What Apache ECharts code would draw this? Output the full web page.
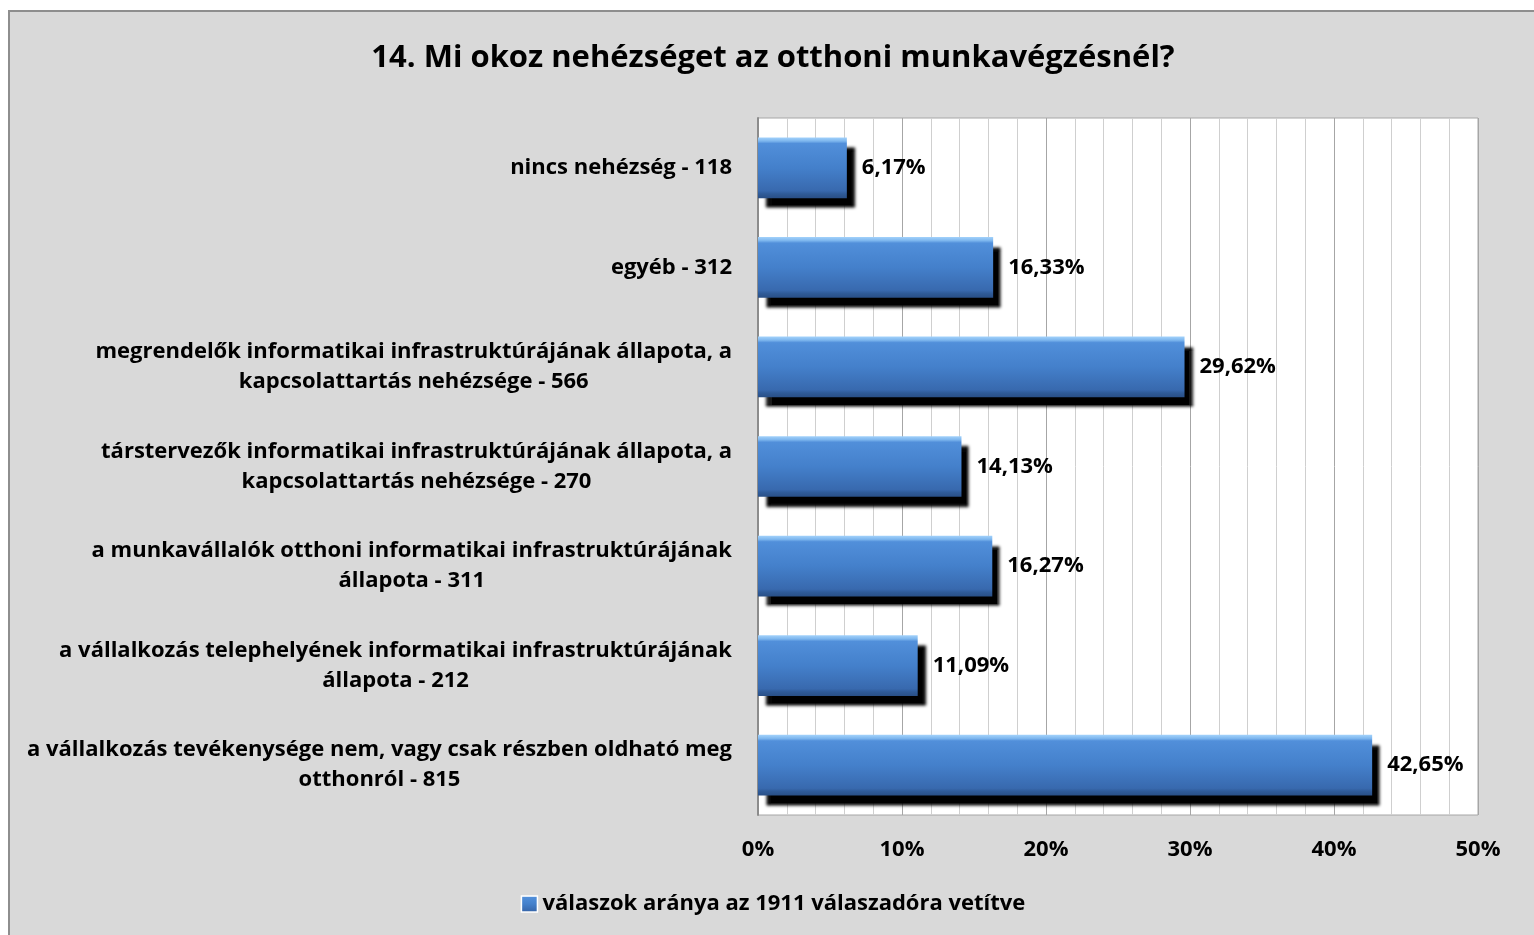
<!DOCTYPE html>
<html>
<head>
<meta charset="utf-8">
<script src="https://cdn.jsdelivr.net/npm/echarts@6/dist/echarts.min.js"></script>
<style>
  html, body { margin: 0; padding: 0; background: #ffffff; }
  #frame {
    position: absolute; left: 8px; top: 10px;
    width: 1526px; height: 925px;
    border-left: 2px solid #8e8e8e; border-top: 2px solid #8e8e8e;
    background: #d9d9d9;
  }
  #main { width: 1526px; height: 925px; }
</style>
</head>
<body>
<div id="frame"><div id="main"></div></div>
<script>
(function(){
    // kategóriák felülről lefelé
    var categories = [
        'nincs nehézség - 118',
        'egyéb - 312',
        'megrendelők informatikai infrastruktúrájának állapota, a\nkapcsolattartás nehézsége - 566',
        'társtervezők informatikai infrastruktúrájának állapota, a\nkapcsolattartás nehézsége - 270',
        'a munkavállalók otthoni informatikai infrastruktúrájának\nállapota - 311',
        'a vállalkozás telephelyének informatikai infrastruktúrájának\nállapota - 212',
        'a vállalkozás tevékenysége nem, vagy csak részben oldható meg\notthonról - 815'
    ];
    var shares = [6.17, 16.33, 29.62, 14.13, 16.27, 11.09, 42.65];
    var seriesName = 'válaszok aránya az 1911 válaszadóra vetítve';
    var axisTicks = [0, 10, 20, 30, 40, 50];

    var font = '"Open Sans", sans-serif';
    var fs = 22;

    // bevel-szerű színátmenet
    var barFill = new echarts.graphic.LinearGradient(0, 0, 0, 1, [
        {offset: 0, color: '#a3d2fb'},
        {offset: 0.06, color: '#7db6ee'},
        {offset: 0.1, color: '#518fda'},
        {offset: 0.5, color: '#4480cb'},
        {offset: 0.88, color: '#3869ae'},
        {offset: 0.93, color: '#2f5b98'},
        {offset: 1, color: '#294f86'}
    ]);

    var myChart = echarts.init(document.getElementById('main'));
    myChart.setOption({
        backgroundColor: '#d9d9d9',
        textStyle: {fontFamily: font},
        title: {
            text: '14. Mi okoz nehézséget az otthoni munkavégzésnél?',
            left: 'center',
            top: 26,
            textStyle: {fontFamily: font, fontSize: 31, fontWeight: 'bold', color: '#000'}
        },
        legend: {
            left: 'center',
            top: 876,
            icon: 'rect',
            itemWidth: 16,
            itemHeight: 16,
            itemGap: 4,
            textStyle: {fontFamily: font, fontSize: fs, fontWeight: 'bold', color: '#000'},
            itemStyle: {shadowBlur: 0, shadowOffsetX: 0, shadowOffsetY: 0, shadowColor: 'rgba(0,0,0,0)', borderColor: '#fff', borderWidth: 1.5}
        },
        grid: {
            left: 748, right: 58, top: 106, bottom: 122,
            show: true, backgroundColor: '#ffffff', borderColor: '#a6a6a6', borderWidth: 1
        },
        xAxis: {
            type: 'value',
            min: axisTicks[0],
            max: axisTicks[axisTicks.length - 1],
            interval: 10,
            axisLine: {show: false},
            axisTick: {show: false},
            axisLabel: {
                margin: 24,
                fontFamily: font, fontSize: fs, fontWeight: 'bold', color: '#000',
                formatter: function(v){ return v + '%'; }
            },
            splitLine: {show: true, lineStyle: {color: '#a6a6a6', width: 1}},
            minorSplitLine: {show: true, lineStyle: {color: '#cfcfcf', width: 1}},
            minorTick: {show: false, splitNumber: 5}
        },
        yAxis: {
            type: 'category',
            inverse: true,
            data: categories,
            axisLine: {show: true, lineStyle: {color: '#8c8c8c', width: 2}},
            axisTick: {show: false},
            axisLabel: {
                margin: 26,
                align: 'right',
                fontFamily: font, fontSize: fs, fontWeight: 'bold', color: '#000',
                lineHeight: 30,
                formatter: function(v){
                    return v.split('\n').map(function(s){ return '{c|' + s + '}'; }).join('\n');
                },
                rich: {
                    c: {align: 'center', fontFamily: font, fontSize: fs, fontWeight: 'bold', color: '#000', lineHeight: 30}
                }
            }
        },
        series: [{
            name: seriesName,
            type: 'bar',
            data: shares,
            barCategoryGap: '39%',
            itemStyle: {
                color: barFill,
                borderWidth: 0,
                shadowColor: '#000000',
                shadowBlur: 3,
                shadowOffsetX: 8,
                shadowOffsetY: 10
            },
            label: {
                show: true,
                position: 'right',
                distance: 15,
                fontFamily: font, fontSize: fs, fontWeight: 'bold', color: '#000',
                formatter: function(p){ return p.value.toFixed(2).replace('.', ',') + '%'; }
            }
        }]
    });
}());
</script>
</body>
</html>
